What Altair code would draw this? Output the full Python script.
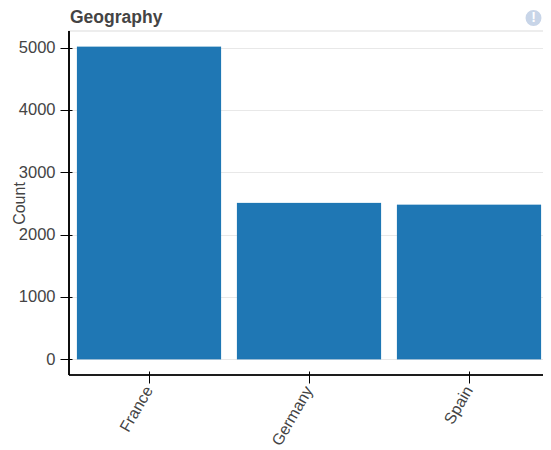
import altair as alt
import pandas as pd

categories = ["France", "Germany", "Spain"]
counts = [5014, 2509, 2477]
y_ticks = [0, 1000, 2000, 3000, 4000, 5000]

df = pd.DataFrame({"Geography": categories, "Count": counts})
font = "Liberation Sans"
grey = "#444444"

x_scale = alt.Scale(domain=categories, paddingInner=0.1, paddingOuter=0.05)
y_scale = alt.Scale(domain=[-250.7, 5264.7], nice=False, zero=False)

bars = alt.Chart(df).mark_bar(
    color="#1f77b4", stroke="#1f77b4", strokeOpacity=0.2, strokeWidth=1
).encode(
    x=alt.X("Geography:N", scale=x_scale, sort=categories, axis=alt.Axis(
        title=None, labelAngle=300, labelAlign="right", labelBaseline="middle",
        labelFont=font, labelFontSize=16, labelColor=grey, labelPadding=4,
        tickColor="black", tickSize=12, offset=-4, domain=False,
        grid=False, labelOverlap=False)),
    y=alt.Y("Count:Q", scale=y_scale, axis=alt.Axis(
        values=y_ticks, title="Count", titleFont=font, titleFontSize=16,
        titleFontWeight="normal", titleColor=grey, titleX=-45, titleY=172,
        labelFont=font, labelFontSize=16.5, labelColor=grey, labelPadding=5,
        tickColor="black", tickSize=12, offset=-3, domain=False,
        grid=True, gridColor="#e8e8e8", format="d")),
)

y_line = alt.Chart(df).mark_rule(color="black", strokeWidth=1.2).encode(
    x=alt.value(0), y=alt.value(0), y2=alt.value(344))
x_line = alt.Chart(df).mark_rule(color="black", strokeWidth=1.2).encode(
    x=alt.value(0), x2=alt.value(480), y=alt.value(344))

badge = alt.Chart(df).transform_filter(alt.datum.Geography == "France").mark_point(
    filled=True, color="#c8d5e8", opacity=1, size=254, shape="circle", clip=False
).encode(x=alt.value(464.5), y=alt.value(-13))
badge_text = alt.Chart(df).transform_filter(alt.datum.Geography == "France").mark_text(
    text="!", font=font, fontSize=14, fontWeight="bold", color="white"
).encode(x=alt.value(464.5), y=alt.value(-13))

chart = alt.layer(bars, y_line, x_line, badge, badge_text).properties(
    width=480, height=344,
    title=alt.TitleParams("Geography", font=font, fontSize=17.5, fontWeight="bold",
                          color=grey, anchor="start", frame="group", dx=1, dy=21, offset=5),
    padding={"left": 61, "top": 23, "right": -6, "bottom": 75},
    autosize=alt.AutoSizeParams(type="none"),
).configure_view(stroke="#e8e8e8", strokeWidth=1.5)

chart.save("out.html", embed_options={"renderer": "svg", "actions": False})
